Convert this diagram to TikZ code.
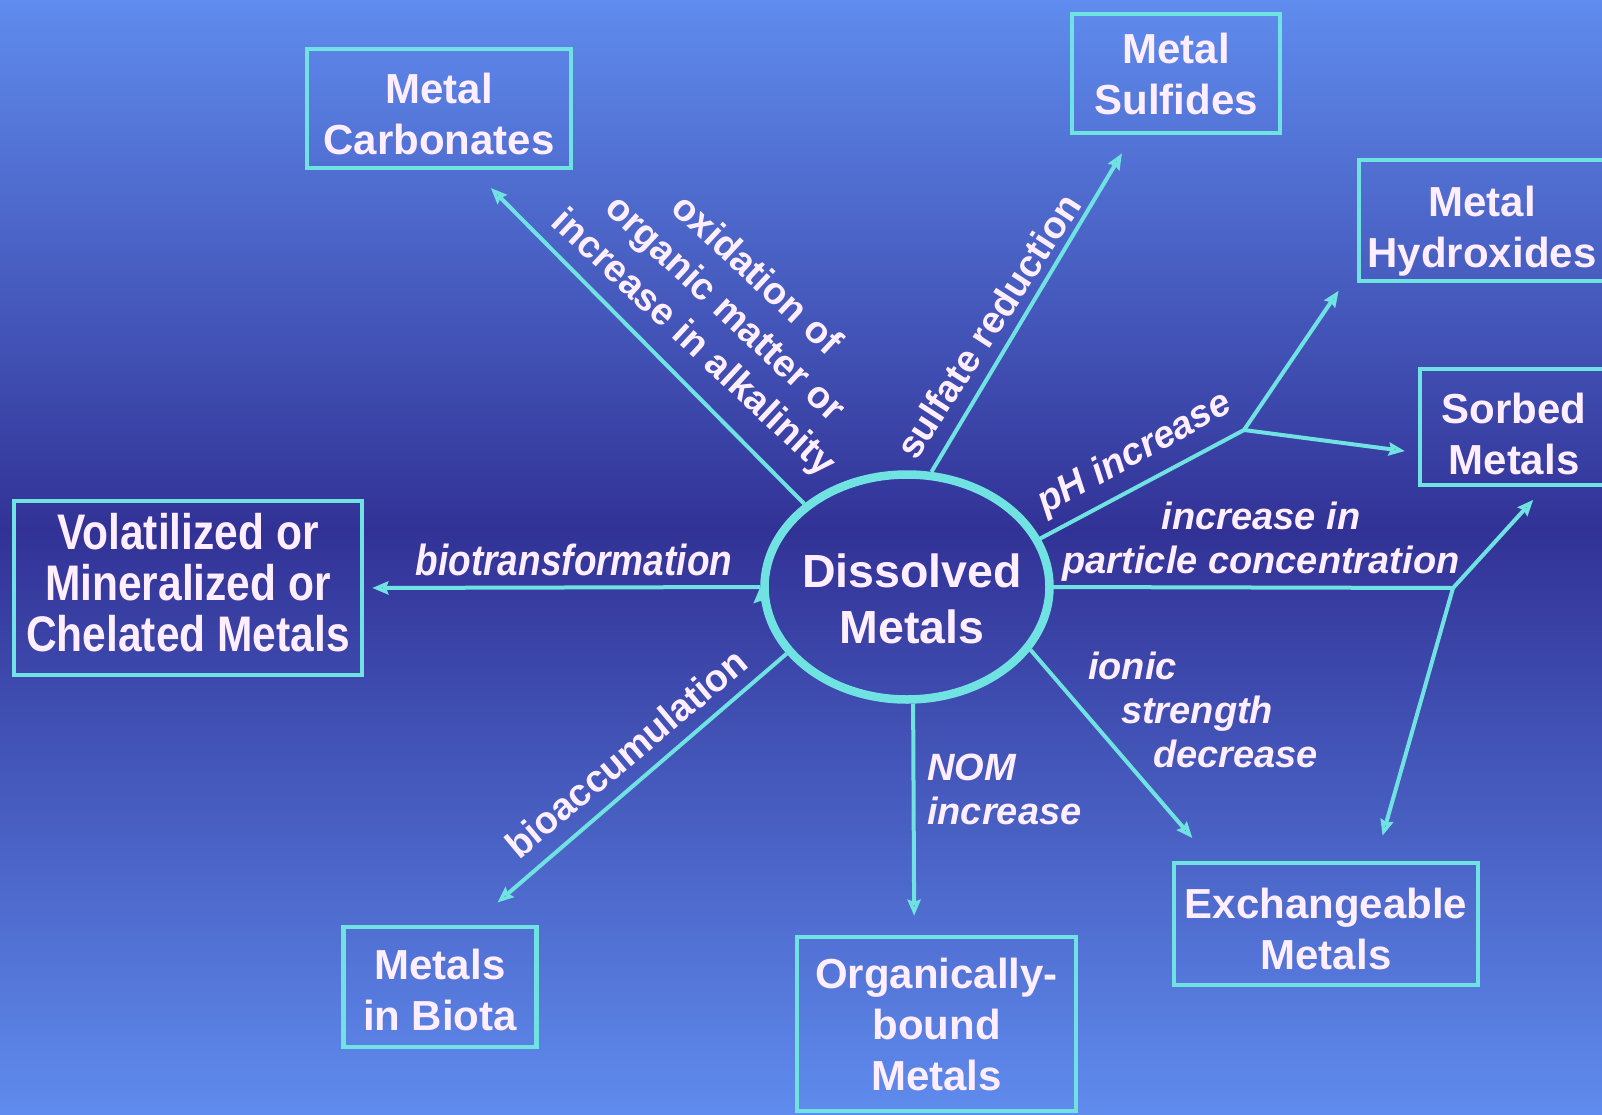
\documentclass[tikz,border=0pt]{standalone}
\usepackage{fontspec}
\setmainfont{Liberation Sans}
\newfontfamily\narrowfont[FakeStretch=0.85]{Liberation Sans}
\usetikzlibrary{positioning,arrows.meta,shapes.geometric}
\definecolor{skylight}{RGB}{95,140,238}
\definecolor{skydark}{RGB}{50,50,150}
\definecolor{cyanline}{RGB}{112,226,226}
\definecolor{paletext}{RGB}{255,238,255}
\tikzset{metal node/.style={rectangle,draw=cyanline,line width=4.5pt,inner sep=0pt,align=center,text=paletext,font=\fontsize{42pt}{51pt}\selectfont\bfseries} }
\tikzset{dissolved node/.style={ellipse,draw=cyanline,line width=8.5pt,minimum width=285pt,minimum height=225pt,inner xsep=-70pt,inner ysep=0pt,align=center,text=paletext,font=\fontsize{46.5pt}{56pt}\selectfont\bfseries} }
\tikzset{flow/.style={draw=cyanline,line width=4pt,-{Stealth[length=16pt,width=13pt,inset=2pt]}} }
\tikzset{flow label/.style={inner sep=0pt,align=center,text=paletext,font=\fontsize{38pt}{46pt}\selectfont\bfseries} }
\tikzset{flow label it/.style={flow label,font=\fontsize{38pt}{44pt}\selectfont\bfseries\itshape} }

\begin{document}
\begin{tikzpicture}[x=1pt,y=-1pt]
\useasboundingbox (0,0) rectangle (1602,1115);
\clip (0,0) rectangle (1602,1115);
% background
\fill[top color=skylight,bottom color=skydark] (0,0) rectangle (1602,530);
\fill[top color=skydark,bottom color=skylight] (0,530) rectangle (1602,1115);

  \node[dissolved node] (dm) at (907,587) {\rule{0pt}{58pt}\hspace*{10pt}Dissolved\\\hspace*{10pt}Metals};

  \node[metal node,minimum width=264pt,minimum height=119pt] (mc) at (439,108.5) {\rule{0pt}{41pt}Metal\\Carbonates};
  \node[metal node,minimum width=208pt,minimum height=119pt] (ms) at (1176,73.5) {Metal\\Sulfides};
  \node[metal node,minimum width=246pt,minimum height=121pt] (mh) at (1482,220.5) {\rule{0pt}{51pt}Metal\\Hydroxides};
  \node[metal node,minimum width=188pt,minimum height=116pt] (sm) at (1514,427) {\rule{0pt}{45pt}Sorbed\\Metals};
  \node[metal node,minimum width=348pt,minimum height=174pt,font=\fontsize{50pt}{51pt}\selectfont\narrowfont\bfseries] (vm) at (188,588) {Volatilized or\\Mineralized or\\Chelated Metals\rule[-12pt]{0pt}{12pt}};
  \node[metal node,minimum width=193pt,minimum height=120pt] (mb) at (440,987) {\rule{0pt}{37pt}Metals\\in Biota};
  \node[metal node,minimum width=279pt,minimum height=174pt] (ob) at (936.5,1024) {Organically-\\bound\\Metals};
  \node[metal node,minimum width=304pt,minimum height=122pt] (em) at (1326,924) {\rule{0pt}{41pt}Exchangeable\\Metals};

  \coordinate (b1) at (1244,430);
  \coordinate (b2) at (1453,588);

  \path[flow]
    (dm.141) edge[shorten >=25pt] (mc.-61)
    (dm.78) edge[shorten >=21pt] (ms.-125)
    (dm.20) edge[-,line cap=round] (b1)
    (b1) edge[shorten >=9pt] ([xshift=-13pt]mh.south west)
    (b1) edge[shorten >=13pt] (sm.-165)
    (dm.0) edge[-,line cap=round] (b2)
    (b2) edge[shorten >=17pt] (sm.-63)
    (b2) edge[shorten >=26pt] (em.52)
    (dm.-27) edge[shorten >=30pt] (em.151)
    (dm.-87) edge[shorten >=19pt] (ob.104)
    (dm.209) edge[shorten >=34pt] (mb.63)
    (dm.180) edge[shorten >=8pt] (vm.east);

  \node[flow label,rotate=-43] (ox) at (724,310) {oxidation of\\organic matter or\\increase in alkalinity};
  \node[flow label,rotate=57] (sr) at (988,326) {sulfate reduction};
  \node[flow label it,rotate=29] (ph) at (1135,454) {pH increase};
  \node[flow label it] (pc) at (1261,542) {increase in\\particle concentration};
  \node[flow label it,align=left,anchor=west] (is) at (1088,710) {ionic\\\hspace*{33pt}strength\\\hspace*{65pt}decrease};
  \node[flow label it,align=left,anchor=west] (nom) at (927,789) {NOM\\increase};
  \node[flow label,rotate=40] (ba) at (626,753) {bioaccumulation};
  \node[flow label,font=\fontsize{43.5pt}{50pt}\selectfont\narrowfont\bfseries\itshape] (bt) at (574,560) {biotransformation};
\end{tikzpicture}
\end{document}
